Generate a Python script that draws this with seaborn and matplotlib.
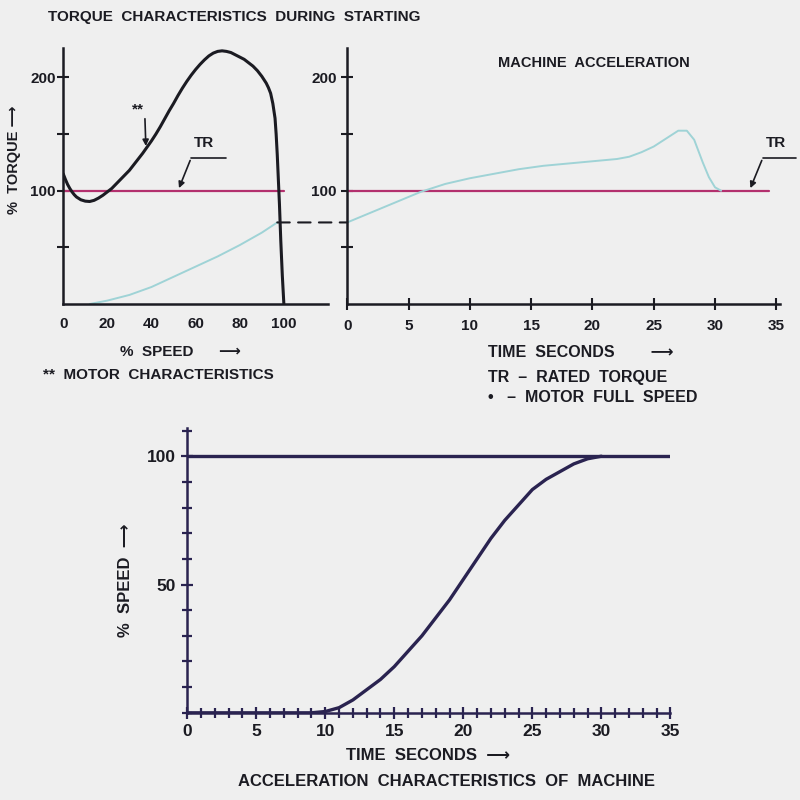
import matplotlib.pyplot as plt
import seaborn as sns
from matplotlib.patches import ConnectionPatch
from matplotlib.ticker import MultipleLocator

# Motor torque characteristic, % torque vs % speed
motor_speed = [0, 1, 2, 3, 4, 5, 6, 8, 10, 12, 14, 16, 18, 20, 22, 24, 26, 28, 30, 32, 34, 36,
               38, 40, 42, 44, 46, 48, 50, 52, 54, 56, 58, 60, 62, 64, 66, 68, 70, 72, 74, 76,
               78, 80, 82, 84, 86, 88, 90, 92, 93, 94, 95, 96, 96.5, 97, 97.5, 98, 98.6, 99.3,
               100]
motor_torque = [115, 110, 105.5, 102, 99, 96.5, 94.5, 92, 90.8, 90.5, 91.5, 93.5, 96, 99, 102,
                106, 110, 114, 118, 123, 128, 133, 138.5, 144, 150, 156.5, 163.5, 170.5, 177,
                184, 190.5, 196.5, 202, 207, 211.5, 215.5, 219, 221.5, 223, 223.5, 223, 222,
                220, 218, 216, 213, 210, 206, 201, 195, 191, 186, 177, 164, 150, 132, 110, 88,
                56, 25, 0]

# Load torque seen on the speed axis
load_speed = [12, 20, 30, 40, 50, 60, 70, 80, 90, 97]
load_torque = [0, 3, 8, 15, 24, 33, 42, 52, 63, 72]

rated_torque = 100

# Machine acceleration torque vs time
accel_time = [0, 2, 4, 6, 8, 10, 12, 14, 16, 18, 20, 22, 23, 24, 25, 26, 27, 27.7, 28.3,
              29, 29.5, 30, 30.5]
accel_torque = [72, 81, 90, 99, 106, 111, 115, 119, 122, 124, 126, 128, 130, 134, 139, 146,
                153, 153, 145, 125, 112, 103, 100]

# Machine speed vs time
speed_time = [0, 5, 9, 10, 11, 12, 13, 14, 15, 16, 17, 18, 19, 20, 21, 22, 23, 24, 25, 26,
              27, 28, 29, 30]
speed_pct = [0, 0, 0, 0.5, 2, 5, 9, 13, 18, 24, 30, 37, 44, 52, 60, 68, 75, 81, 87, 91, 94,
             97, 99, 100]
full_speed = 100

speed_ticks = [0, 20, 40, 60, 80, 100]
time_ticks = [0, 5, 10, 15, 20, 25, 30, 35]
torque_ticks = [50, 100, 150, 200]
torque_labels = ["", "100", "", "200"]
pct_ticks = [50, 100]

bg = "#efefef"
ink = "#1b1b22"
navy = "#2a2350"
pink = "#b3306e"
cyan = "#9fd3d6"

sns.set_theme(style="white")
plt.rcParams["font.family"] = ["Liberation Sans", "DejaVu Sans"]
plt.rcParams["font.weight"] = "bold"
plt.rcParams["text.color"] = ink

fig = plt.figure(figsize=(8, 8), dpi=100, facecolor=bg)
ax1 = fig.add_axes([0.079, 0.62, 0.331, 0.32])
ax2 = fig.add_axes([0.434, 0.62, 0.541, 0.32])
ax3 = fig.add_axes([0.234, 0.109, 0.604, 0.356])

for ax in (ax1, ax2, ax3):
    ax.set_facecolor(bg)
    sns.despine(ax=ax)
    for s in ("left", "bottom"):
        ax.spines[s].set_color(ink)
        ax.spines[s].set_linewidth(1.8)
    ax.tick_params(which="both", bottom=True, left=True)

tick_font = dict(fontsize=11, color=ink, fontweight="bold")
big_tick_font = dict(fontsize=12.5, color=ink, fontweight="bold")

# ---- left panel: torque vs speed
sns.lineplot(x=[motor_speed[0], motor_speed[-1]], y=[rated_torque] * 2, ax=ax1,
             color=pink, lw=1.6)
sns.lineplot(x=load_speed, y=load_torque, ax=ax1, color=cyan, lw=1.4)
sns.lineplot(x=motor_speed, y=motor_torque, ax=ax1, color=ink, lw=2.2, sort=False)
ax1.set_xlim(0, 120)
ax1.set_ylim(0, 226)
ax1.set_xticks(speed_ticks)
ax1.set_xticklabels([str(v) for v in speed_ticks], **tick_font)
ax1.tick_params(axis="x", length=0, pad=9)
ax1.set_yticks(torque_ticks)
ax1.set_yticklabels(torque_labels, **tick_font)
ax1.tick_params(axis="y", direction="inout", length=9, width=1.5, color=ink, pad=1)

ax1.text(64, 142, "TR", fontsize=11, ha="center", va="center")
ax1.plot([58, 74], [129, 129], color=ink, lw=1.2)
ax1.annotate("", xy=(52, 100), xytext=(58, 129),
             arrowprops=dict(arrowstyle="-|>", color=ink, lw=1.2, mutation_scale=9))
ax1.text(34, 172, "**", fontsize=11, ha="center", va="center")
ax1.annotate("", xy=(37.5, 137), xytext=(37, 166),
             arrowprops=dict(arrowstyle="-|>", color=ink, lw=1.2, mutation_scale=9))

# ---- right panel: acceleration torque vs time
sns.lineplot(x=[time_ticks[0], time_ticks[-1] - 0.6], y=[rated_torque] * 2, ax=ax2,
             color=pink, lw=1.6)
sns.lineplot(x=accel_time, y=accel_torque, ax=ax2, color=cyan, lw=1.4)
ax2.set_xlim(0, 35.3)
ax2.set_ylim(0, 226)
ax2.set_xticks(time_ticks)
ax2.set_xticklabels([str(v) for v in time_ticks], **tick_font)
ax2.tick_params(axis="x", direction="inout", length=9, width=1.5, color=ink, pad=6)
ax2.set_yticks(torque_ticks)
ax2.set_yticklabels(torque_labels, **tick_font)
ax2.tick_params(axis="y", direction="inout", length=9, width=1.5, color=ink, pad=3)

ax2.text(35, 142, "TR", fontsize=11, ha="center", va="center")
ax2.plot([33.9, 36.6], [129, 129], color=ink, lw=1.2, clip_on=False)
ax2.annotate("", xy=(32.8, 100), xytext=(33.9, 129), annotation_clip=False,
             arrowprops=dict(arrowstyle="-|>", color=ink, lw=1.2, mutation_scale=9))

# dashed link: load torque at motor full speed -> start of acceleration curve
link = ConnectionPatch(xyA=(load_speed[-1], load_torque[-1]), coordsA=ax1.transData,
                       xyB=(0, accel_torque[0]), coordsB=ax2.transData,
                       color=ink, lw=1.5, ls=(0, (6, 4)))
fig.add_artist(link)

# ---- bottom panel: speed vs time
sns.lineplot(x=[time_ticks[0], time_ticks[-1] + 0.3], y=[full_speed] * 2, ax=ax3,
             color=navy, lw=2.4)
sns.lineplot(x=speed_time, y=speed_pct, ax=ax3, color=navy, lw=2.4)
ax3.spines["left"].set_color(navy)
ax3.spines["bottom"].set_color(navy)
ax3.set_xlim(0, 35)
ax3.set_ylim(0, 111)
ax3.set_xticks(time_ticks)
ax3.set_xticklabels([str(v) for v in time_ticks], **big_tick_font)
ax3.xaxis.set_minor_locator(MultipleLocator(1))
ax3.set_yticks(pct_ticks)
ax3.set_yticklabels([str(v) for v in pct_ticks], **big_tick_font)
ax3.yaxis.set_minor_locator(MultipleLocator(10))
ax3.tick_params(which="both", direction="inout", color=navy, width=1.6)
ax3.tick_params(which="major", length=8, pad=4)
ax3.tick_params(which="minor", length=7)

for a in (ax1, ax2, ax3):
    a.set_xlabel("")
    a.set_ylabel("")

# ---- figure texts
fig.text(0.06, 1 - 17 / 800, "TORQUE  CHARACTERISTICS  DURING  STARTING", fontsize=11,
         ha="left", va="center")
fig.text(594 / 800, 1 - 63 / 800, "MACHINE  ACCELERATION", fontsize=10.5, ha="center",
         va="center")
fig.text(14 / 800, 1 - 160 / 800, "%  TORQUE ⟶", fontsize=10.5, rotation=90, ha="center",
         va="center")
fig.text(120 / 800, 1 - 352 / 800, "%  SPEED      ⟶", fontsize=11, ha="left", va="center")
fig.text(43 / 800, 1 - 375 / 800, "**  MOTOR  CHARACTERISTICS", fontsize=11, ha="left",
         va="center")
fig.text(488 / 800, 1 - 353 / 800, "TIME  SECONDS        ⟶", fontsize=11.5, ha="left",
         va="center")
fig.text(488 / 800, 1 - 378 / 800, "TR  –  RATED  TORQUE", fontsize=11.5, ha="left",
         va="center")
fig.text(488 / 800, 1 - 397 / 800, "•   –  MOTOR  FULL  SPEED", fontsize=11.5, ha="left",
         va="center")
fig.text(125 / 800, 1 - 580 / 800, "%  SPEED  ⟶", fontsize=12, rotation=90, ha="center",
         va="center")
fig.text(346 / 800, 1 - 756 / 800, "TIME  SECONDS  ⟶", fontsize=12, ha="left", va="center")
fig.text(447 / 800, 1 - 781 / 800, "ACCELERATION  CHARACTERISTICS  OF  MACHINE", fontsize=12,
         ha="center", va="center")

fig.savefig("out.png", dpi=100, facecolor=bg)
